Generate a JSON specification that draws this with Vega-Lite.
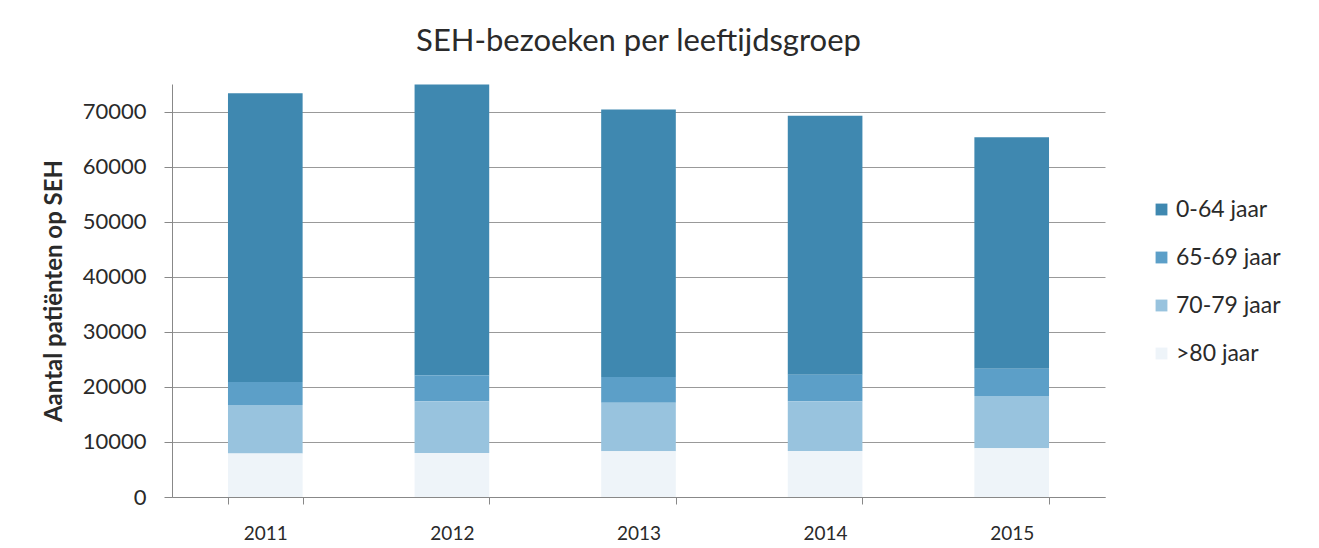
{
  "$schema": "https://vega.github.io/schema/vega-lite/v6.json",
  "width": 933,
  "height": 413,
  "autosize": {"type": "none"},
  "padding": {"left": 172, "top": 84, "right": 214, "bottom": 51},
  "background": "white",
  "title": {
    "text": "SEH-bezoeken per leeftijdsgroep",
    "font": "Lato",
    "fontSize": 31,
    "fontWeight": "normal",
    "color": "#2a2a2a",
    "anchor": "middle",
    "offset": 26
  },
  "data": {
    "values": [
      {"jaar": "2011", "groep": "0-64 jaar", "aantal": 52450},
      {"jaar": "2011", "groep": "65-69 jaar", "aantal": 4180},
      {"jaar": "2011", "groep": "70-79 jaar", "aantal": 8810},
      {"jaar": "2011", "groep": ">80 jaar", "aantal": 7880},
      {"jaar": "2012", "groep": "0-64 jaar", "aantal": 52810},
      {"jaar": "2012", "groep": "65-69 jaar", "aantal": 4720},
      {"jaar": "2012", "groep": "70-79 jaar", "aantal": 9380},
      {"jaar": "2012", "groep": ">80 jaar", "aantal": 7990},
      {"jaar": "2013", "groep": "0-64 jaar", "aantal": 48580},
      {"jaar": "2013", "groep": "65-69 jaar", "aantal": 4650},
      {"jaar": "2013", "groep": "70-79 jaar", "aantal": 8840},
      {"jaar": "2013", "groep": ">80 jaar", "aantal": 8290},
      {"jaar": "2014", "groep": "0-64 jaar", "aantal": 47010},
      {"jaar": "2014", "groep": "65-69 jaar", "aantal": 4840},
      {"jaar": "2014", "groep": "70-79 jaar", "aantal": 9020},
      {"jaar": "2014", "groep": ">80 jaar", "aantal": 8350},
      {"jaar": "2015", "groep": "0-64 jaar", "aantal": 42040},
      {"jaar": "2015", "groep": "65-69 jaar", "aantal": 4970},
      {"jaar": "2015", "groep": "70-79 jaar", "aantal": 9490},
      {"jaar": "2015", "groep": ">80 jaar", "aantal": 8840}
    ]
  },
  "mark": {"type": "bar"},
  "encoding": {
    "x": {
      "field": "jaar",
      "type": "ordinal",
      "scale": {"paddingInner": 0.6, "paddingOuter": 0.3},
      "axis": {
        "title": null,
        "labelAngle": 0,
        "labelFont": "Lato",
        "labelFontSize": 19,
        "labelColor": "#2a2a2a",
        "labelPadding": 20,
        "tickBand": "extent",
        "tickSize": 7,
        "tickColor": "#888888",
        "domainColor": "#888888",
        "grid": false
      }
    },
    "y": {
      "field": "aantal",
      "type": "quantitative",
      "aggregate": "sum",
      "stack": "zero",
      "scale": {"domain": [0, 75000], "nice": false},
      "axis": {
        "title": "Aantal patiënten op SEH",
        "titleFont": "Lato",
        "titleFontSize": 24,
        "titleFontWeight": "bold",
        "titleColor": "#2a2a2a",
        "titlePadding": 16,
        "values": [0, 10000, 20000, 30000, 40000, 50000, 60000, 70000],
        "format": "d",
        "labelFont": "Lato",
        "labelFontSize": 22,
        "labelColor": "#2a2a2a",
        "labelPadding": 18,
        "tickSize": 8,
        "tickColor": "#888888",
        "domainColor": "#888888",
        "grid": true,
        "gridColor": "#999999",
        "gridWidth": 1.2
      }
    },
    "color": {
      "field": "groep",
      "type": "nominal",
      "scale": {
        "domain": ["0-64 jaar", "65-69 jaar", "70-79 jaar", ">80 jaar"],
        "range": ["#3f88b0", "#5c9fc8", "#98c3de", "#eef4f9"]
      },
      "legend": {
        "title": null,
        "orient": "none",
        "legendX": 978,
        "legendY": 114,
        "symbolType": "square",
        "symbolSize": 140,
        "symbolStrokeWidth": 0,
        "labelFont": "Lato",
        "labelFontSize": 23,
        "labelColor": "#2a2a2a",
        "rowPadding": 24,
        "labelOffset": 3
      }
    },
    "order": {"field": "groep", "sort": "descending"}
  },
  "config": {
    "view": {"stroke": null}
  }
}
